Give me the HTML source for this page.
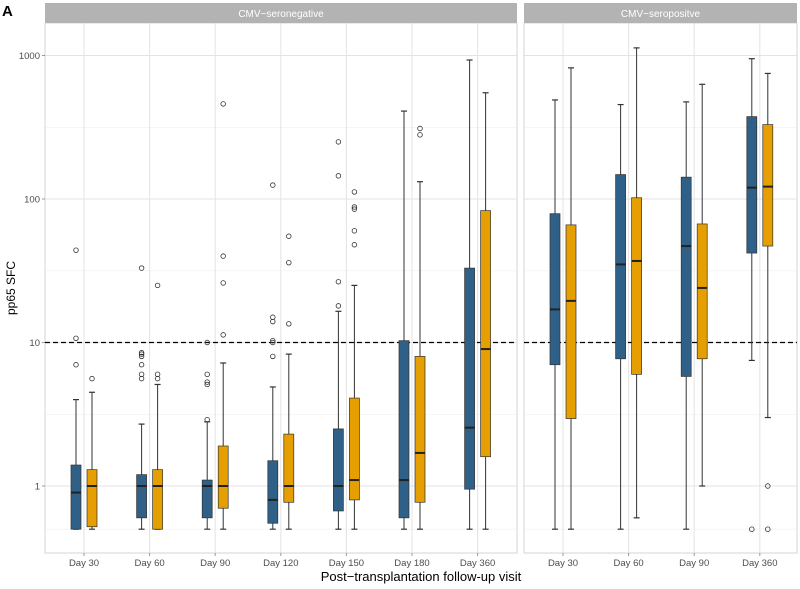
<!DOCTYPE html>
<html><head><meta charset="utf-8"><style>
body{margin:0;background:#fff}
svg text{font-family:"Liberation Sans",sans-serif}
</style></head><body>
<svg id="c" width="800" height="584" xmlns="http://www.w3.org/2000/svg"></svg>
<script>
const leftCats=["Day 30","Day 60","Day 90","Day 120","Day 150","Day 180","Day 360"];
const rightCats=["Day 30","Day 60","Day 90","Day 360"];
const yTicks=[1,10,100,1000];
const yTickLabels=["1","10","100","1000"];
// [low, q1, median, q3, high]
const negBlue=[[0.5,0.5,0.9,1.4,4],[0.5,0.6,1,1.2,2.7],[0.5,0.6,1,1.1,2.8],[0.5,0.55,0.8,1.5,4.9],[0.5,0.67,1,2.5,16.5],[0.5,0.6,1.1,10.3,410],[0.5,0.95,2.55,33,930]];
const negOrange=[[0.5,0.52,1,1.3,4.5],[0.5,0.5,1,1.3,5.1],[0.5,0.7,1,1.9,7.2],[0.5,0.77,1,2.3,8.3],[0.5,0.8,1.1,4.1,25],[0.5,0.77,1.7,8,132],[0.5,1.6,9,83,550]];
const negBlueOut=[[7,10.7,44],[5.6,6,7,8,8.3,8.5,33],[2.9,5.1,5.3,6,10],[8,10,10.3,14,15,125],[18,26.5,145,250],[],[]];
const negOrangeOut=[[5.6],[5.6,6,25],[11.3,26,40,460],[13.5,36,55],[48,60,85,88,112],[280,310],[]];
const posBlue=[[0.5,7,17,79,490],[0.5,7.7,35,148,455],[0.5,5.8,47,142,475],[7.5,42,120,375,950]];
const posOrange=[[0.5,2.95,19.5,66,820],[0.6,6,37,102,1130],[1,7.7,24,67,630],[3,47,122,330,750]];
const posBlueOut=[[],[],[],[0.5]];
const posOrangeOut=[[],[],[],[0.5,1]];
const threshold=10;

const svg=document.getElementById('c');
const NS="http://www.w3.org/2000/svg";
function el(t,a,p){const e=document.createElementNS(NS,t);for(const k in a)e.setAttribute(k,a[k]);(p||svg).appendChild(e);return e;}
const yScale=v=>486-143.5*Math.log10(v);
const panels=[
 {x0:45,x1:517,first:84,cats:leftCats,b:negBlue,o:negOrange,bo:negBlueOut,oo:negOrangeOut,title:"CMV\u2212seronegative",name:"seronegative"},
 {x0:524,x1:797,first:563,cats:rightCats,b:posBlue,o:posOrange,bo:posBlueOut,oo:posOrangeOut,title:"CMV\u2212seropositve",name:"seropositive"}];
const step=65.6, pTop=23, pBot=553;
panels.forEach(P=>{
 const g=el('g',{},svg);
 
 
 const xc=i=>P.first+i*step;
 [0.5,3.16,31.6,316].forEach(v=>{el('line',{x1:P.x0,x2:P.x1,y1:yScale(v),y2:yScale(v),stroke:'#f0f0f0','stroke-width':0.6},g);});
 yTicks.forEach(v=>el('line',{x1:P.x0,x2:P.x1,y1:yScale(v),y2:yScale(v),stroke:'#e3e3e3','stroke-width':1},g));
 P.cats.forEach((c,i)=>el('line',{x1:xc(i),x2:xc(i),y1:pTop,y2:pBot,stroke:'#e3e3e3','stroke-width':1},g));
 el('rect',{x:P.x0,y:pTop,width:P.x1-P.x0,height:pBot-pTop,fill:'none',stroke:'#d6d6d6','stroke-width':1},g);
 const s=el('rect',{x:P.x0,y:3,width:P.x1-P.x0,height:20,fill:'#b3b3b3'},g);
 
 
 const st=el('text',{x:(P.x0+P.x1)/2,y:17,'text-anchor':'middle','font-size':10,fill:'#fff'},g);
 st.textContent=P.title;
 
 
 const th=el('line',{x1:P.x0,x2:P.x1,y1:yScale(threshold),y2:yScale(threshold),stroke:'#000','stroke-width':1.2,'stroke-dasharray':'5,3'},g);
 
 
 function box(d,cx,fill,outs,nm){
  const bg=el('g',{},g);
  
  
  el('line',{x1:cx,x2:cx,y1:yScale(d[0]),y2:yScale(d[4]),stroke:'#333','stroke-width':1},bg);
  el('line',{x1:cx-3,x2:cx+3,y1:yScale(d[0]),y2:yScale(d[0]),stroke:'#333','stroke-width':1.2},bg);
  el('line',{x1:cx-3,x2:cx+3,y1:yScale(d[4]),y2:yScale(d[4]),stroke:'#333','stroke-width':1.2},bg);
  el('rect',{x:cx-5,y:yScale(d[3]),width:10,height:Math.max(0.5,yScale(d[1])-yScale(d[3])),fill:fill,stroke:'#333','stroke-width':0.7},bg);
  el('line',{x1:cx-5,x2:cx+5,y1:yScale(d[2]),y2:yScale(d[2]),stroke:'#222','stroke-width':2},bg);
  outs.forEach(v=>el('circle',{cx:cx,cy:yScale(v),r:2.3,fill:'none',stroke:'#333','stroke-width':0.8},bg));
 }
 P.cats.forEach((c,i)=>{
  box(P.b[i],xc(i)-8,'#2f6088',P.bo[i],'box-blue-'+P.name+'-'+i);
  box(P.o[i],xc(i)+8,'#e69f00',P.oo[i],'box-orange-'+P.name+'-'+i);
  el('line',{x1:xc(i),x2:xc(i),y1:pBot,y2:pBot+3,stroke:'#999'},g);
  const t=el('text',{x:xc(i),y:pBot+13,'text-anchor':'middle','font-size':9.5,fill:'#4d4d4d'},g);
  t.textContent=c;
  
  
 });
});
yTicks.forEach((v,i)=>{
 el('line',{x1:42,x2:45,y1:yScale(v),y2:yScale(v),stroke:'#999'});
 const t=el('text',{x:40,y:yScale(v)+3.5,'text-anchor':'end','font-size':9.5,fill:'#4d4d4d'});
 t.textContent=yTickLabels[i];
 
 
});
const xt=el('text',{x:421,y:581,'text-anchor':'middle','font-size':13,fill:'#000'});
xt.textContent="Post\u2212transplantation follow-up visit";


const yt=el('text',{x:0,y:0,transform:'translate(15,288) rotate(-90)','text-anchor':'middle','font-size':12,fill:'#000'});
yt.textContent="pp65 SFC";


const A=el('text',{x:2,y:16,'font-size':15,'font-weight':'bold',fill:'#000'});
A.textContent="A";


</script>
</body></html>
